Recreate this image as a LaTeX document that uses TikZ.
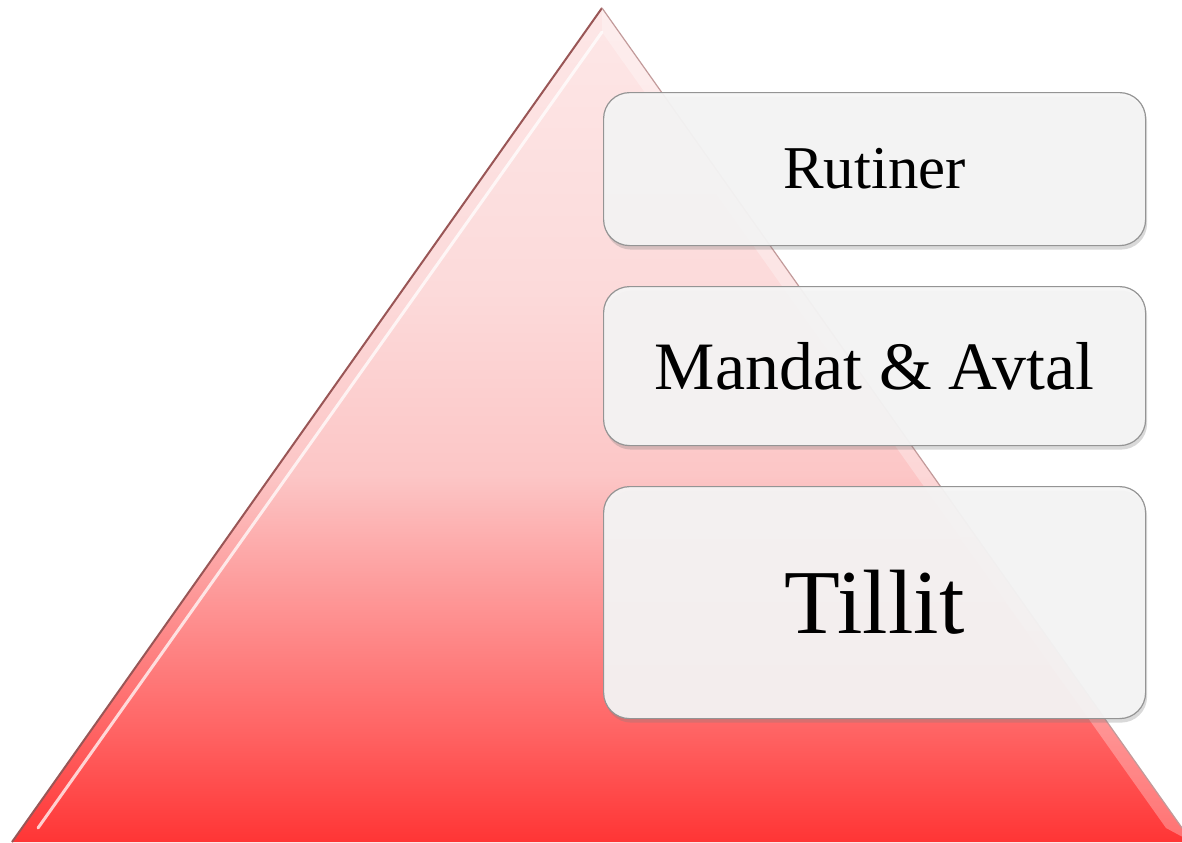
\documentclass[tikz,border=0pt]{standalone}
\usepackage{fontspec}
\setmainfont{Liberation Serif}
\usetikzlibrary{shadows}
\newlength{\du}
\setlength{\du}{0.02cm}

\definecolor{pyrtop}{rgb}{0.992157, 0.905882, 0.905882}
\definecolor{pyrmid}{rgb}{0.988235, 0.854902, 0.854902}
\definecolor{pyrlow}{rgb}{0.988235, 0.776471, 0.776471}
\definecolor{pyrred}{rgb}{1.000000, 0.400000, 0.400000}
\definecolor{pyrbottom}{rgb}{1.000000, 0.207843, 0.207843}
\pgfdeclareverticalshading{pyramid}{100bp}{color(0bp)=(pyrbottom);
  color(25bp)=(pyrbottom); color(32bp)=(pyrred); color(47bp)=(pyrlow);
  color(58bp)=(pyrmid); color(75bp)=(pyrtop); color(100bp)=(pyrtop)}

\tikzset{
  layerbox/.style={draw=boxedge, line width=1.2\du, fill=boxfill,
    fill opacity=0.94, text opacity=1, rounded corners=26\du,
    minimum width=542\du, inner sep=0pt, anchor=north west,
    drop shadow={opacity=0.3, shadow xshift=1.5\du, shadow yshift=-4\du}},
}

\begin{document}
\begin{tikzpicture}[x=\du, y=-\du]
\definecolor{pyredge}{rgb}{0.600000, 0.337255, 0.337255}
\definecolor{boxfill}{rgb}{0.960784, 0.960784, 0.960784}
\definecolor{boxedge}{rgb}{0.580000, 0.580000, 0.580000}
\useasboundingbox (0,0) rectangle (1182,842);
% pyramid
\coordinate (apex) at (602,8);
\coordinate (bl) at (12,842);
\coordinate (br) at (1192,842);
\coordinate (inapex) at (602,32);
\coordinate (inbl) at (38,828);
\coordinate (inbr) at (1166,828);
\shade[shading=pyramid] (bl) -- (apex) -- (br) -- cycle;
\fill[white, opacity=0.3] (apex) -- (br) -- (inbr) -- (inapex) -- cycle;
\draw[white, opacity=0.75, line width=3\du, line cap=round] (inbl) -- (inapex);
\draw[pyredge, line width=2\du] (bl) -- (apex);
\draw[pyredge!60, line width=1.2\du] (apex) -- (br);
% layers
\node[layerbox, minimum height=153\du] (rutiner) at (603,92)
  {\fontsize{34.6}{40}\selectfont Rutiner};
\node[layerbox, minimum height=159\du] (mandat) at (603,286)
  {\fontsize{38.6}{44}\selectfont Mandat \& Avtal};
\node[layerbox, minimum height=232\du] (tillit) at (603,486)
  {\fontsize{52}{60}\selectfont Tillit};
\end{tikzpicture}
\end{document}
